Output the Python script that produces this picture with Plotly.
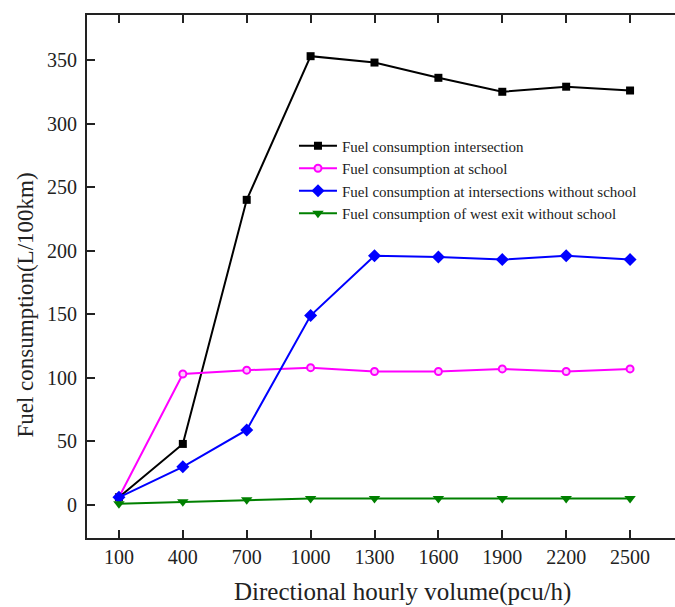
import plotly.graph_objects as go

# Directional hourly volume (pcu/h)
volume = [100, 400, 700, 1000, 1300, 1600, 1900, 2200, 2500]

# Fuel consumption (L/100km) for each scenario
fuel_intersection = [6, 48, 240, 353, 348, 336, 325, 329, 326]
fuel_school = [6, 103, 106, 108, 105, 105, 107, 105, 107]
fuel_intersection_no_school = [6, 30, 59, 149, 196, 195, 193, 196, 193]
fuel_west_exit_no_school = [1, 2.5, 4, 5, 5, 5, 5, 5, 5]

series_names = [
    "Fuel consumption intersection",
    "Fuel consumption at school",
    "Fuel consumption at intersections without school",
    "Fuel consumption of west exit without school",
]

x_ticks = volume
y_ticks = [0, 50, 100, 150, 200, 250, 300, 350]

x_title = "Directional hourly volume(pcu/h)"
y_title = "Fuel consumption(L/100km)"

FONT = "Liberation Serif"
INK = "#222222"

fig = go.Figure()

styles = [
    (fuel_intersection, "#000000", dict(symbol="square", size=8, color="#000000")),
    (fuel_school, "#ff00ff", dict(symbol="circle", size=7, color="#ffc8ff",
                                  line=dict(color="#ff00ff", width=2))),
    (fuel_intersection_no_school, "#0000ff", dict(symbol="diamond", size=10, color="#0000ff")),
    (fuel_west_exit_no_school, "#008000", dict(symbol="triangle-down", size=10, color="#008000")),
]

for i, (vals, col, mk) in enumerate(styles):
    fig.add_trace(go.Scatter(
        x=volume, y=vals, mode="lines+markers", name=series_names[i],
        line=dict(color=col, width=2), marker=mk, legendgroup=f"g{i}",
    ))

fig.update_layout(
    width=675, height=607,
    margin=dict(l=87, r=0, t=15, b=69),
    paper_bgcolor="white", plot_bgcolor="white",
    font=dict(family=FONT, color=INK),
    showlegend=True,
    legend=dict(
        x=0.352, y=0.781, xanchor="left", yanchor="top",
        bgcolor="rgba(0,0,0,0)", font=dict(family=FONT, size=15, color=INK),
        tracegroupgap=0, traceorder="grouped", itemwidth=38,
    ),
    xaxis=dict(
        range=[-50, 2711], tickvals=x_ticks, ticktext=[str(v) for v in x_ticks],
        ticks="inside", ticklen=8, tickwidth=1.5, tickcolor=INK,
        showline=True, linewidth=2, linecolor=INK, mirror="ticks",
        showgrid=False, zeroline=False,
        tickfont=dict(family=FONT, size=20, color=INK),
    ),
    yaxis=dict(
        range=[-26, 385.4], tickvals=y_ticks,
        ticks="inside", ticklen=8, tickwidth=1.5, tickcolor=INK,
        showline=True, linewidth=2, linecolor=INK,
        showgrid=False, zeroline=False,
        tickfont=dict(family=FONT, size=20, color=INK),
        ticklabelstandoff=4,
    ),
    yaxis2=dict(
        overlaying="y", side="right", range=[-26, 385.4], tickvals=y_ticks,
        ticks="inside", ticklen=4, tickwidth=1, tickcolor="#444444",
        showticklabels=False, showline=False, showgrid=False, zeroline=False,
    ),
    annotations=[
        dict(text=x_title, xref="paper", yref="paper", x=0.536, y=-0.103,
             xanchor="center", yanchor="middle", showarrow=False,
             font=dict(family=FONT, size=25, color=INK)),
        dict(text=y_title, xref="paper", yref="paper", x=-0.105, y=0.445,
             xanchor="center", yanchor="middle", textangle=-90, showarrow=False,
             font=dict(family=FONT, size=23, color=INK)),
    ],
)

fig.write_html("out.html")
